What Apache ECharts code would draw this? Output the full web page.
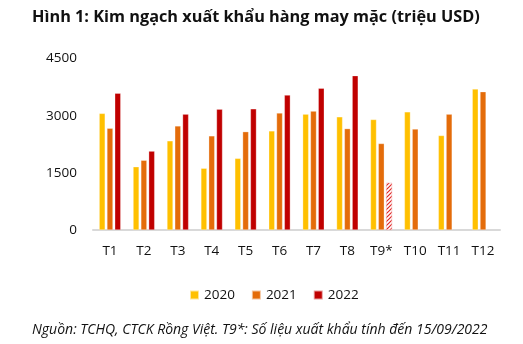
<!DOCTYPE html>
<html><head><meta charset="utf-8">
<script src="https://cdn.jsdelivr.net/npm/echarts@6/dist/echarts.min.js"></script>
<style>html,body{margin:0;padding:0;background:#fff}#c{width:523px;height:344px}</style>
</head><body><div id="c"></div>
<script>
var categories = ['T1','T2','T3','T4','T5','T6','T7','T8','T9*','T10','T11','T12'];
var yTicks = [0, 1500, 3000, 4500];
var v2020 = [3060, 1660, 2340, 1620, 1880, 2600, 3040, 2970, 2900, 3100, 2480, 3700];
var v2021 = [2670, 1830, 2730, 2470, 2580, 3070, 3120, 2660, 2270, 2650, 3040, 3630];
var v2022 = [3590, 2070, 3040, 3170, 3180, 3540, 3720, 4050, 1240, null, null, null];
var hatchedIndex = 8;

var pc = document.createElement('canvas');
pc.width = 4; pc.height = 4;
var g = pc.getContext('2d');
g.fillStyle = '#fff'; g.fillRect(0,0,4,4);
g.strokeStyle = '#e02828'; g.lineWidth = 1.2;
g.beginPath(); g.moveTo(-1,5); g.lineTo(5,-1); g.stroke();
g.beginPath(); g.moveTo(-1,1); g.lineTo(1,-1); g.stroke();
g.beginPath(); g.moveTo(3,5); g.lineTo(5,3); g.stroke();

var d2022 = v2022.map(function(v,i){
  if (i === hatchedIndex) return {value: v, itemStyle: {color: {image: pc, repeat: 'repeat'}, borderColor: '#f4b0b0', borderWidth: 0.5}};
  return v;
});

var font = '"Open Sans", "Noto Sans", sans-serif';
var chart = echarts.init(document.getElementById('c'), null, {renderer: 'canvas'});
function bar(name, data, color){
  return {name: name, type: 'bar', data: data, barWidth: 6, barGap: '30%',
    itemStyle: {color: color, borderColor: 'rgba(255,255,255,0.6)', borderWidth: 0.5}};
}
chart.setOption({
  animation: false,
  textStyle: {fontFamily: font},
  title: [{
    text: 'Hình 1: Kim ngạch xuất khẩu hàng may mặc (triệu USD)',
    left: 27, top: 4,
    textStyle: {fontFamily: font, fontWeight: 'bold', fontSize: 16.3, color: '#111'}
  },{
    text: 'Nguồn: TCHQ, CTCK Rồng Việt. T9*: Số liệu xuất khẩu tính đến 15/09/2022',
    left: 27, top: 318,
    textStyle: {fontFamily: font, fontStyle: 'italic', fontWeight: 'normal', fontSize: 14, color: '#111'}
  }],
  legend: {
    data: ['2020','2021','2022'],
    top: 288, left: 189, padding: 0,
    itemWidth: 9, itemHeight: 9, itemGap: 16,
    icon: 'rect',
    textStyle: {fontFamily: font, fontSize: 13.5, color: '#111'}
  },
  grid: {left: 93, right: 23, top: 58.5, bottom: 114, containLabel: false},
  xAxis: {
    type: 'category', data: categories,
    axisLine: {lineStyle: {color: '#d9d9d9', width: 2}},
    axisTick: {show: false},
    axisLabel: {color: '#111', fontSize: 13.5, margin: 14, fontFamily: font, interval: 0}
  },
  yAxis: {
    type: 'value', min: yTicks[0], max: yTicks[yTicks.length-1], interval: 1500,
    axisLine: {show: false}, axisTick: {show: false}, splitLine: {show: false},
    axisLabel: {color: '#111', fontSize: 13.5, margin: 16, fontFamily: font,
      formatter: function(v){ return String(v); }}
  },
  series: [bar('2020', v2020, '#FFC000'), bar('2021', v2021, '#E46C0A'), bar('2022', d2022, '#C00000')]
});
</script></body></html>
